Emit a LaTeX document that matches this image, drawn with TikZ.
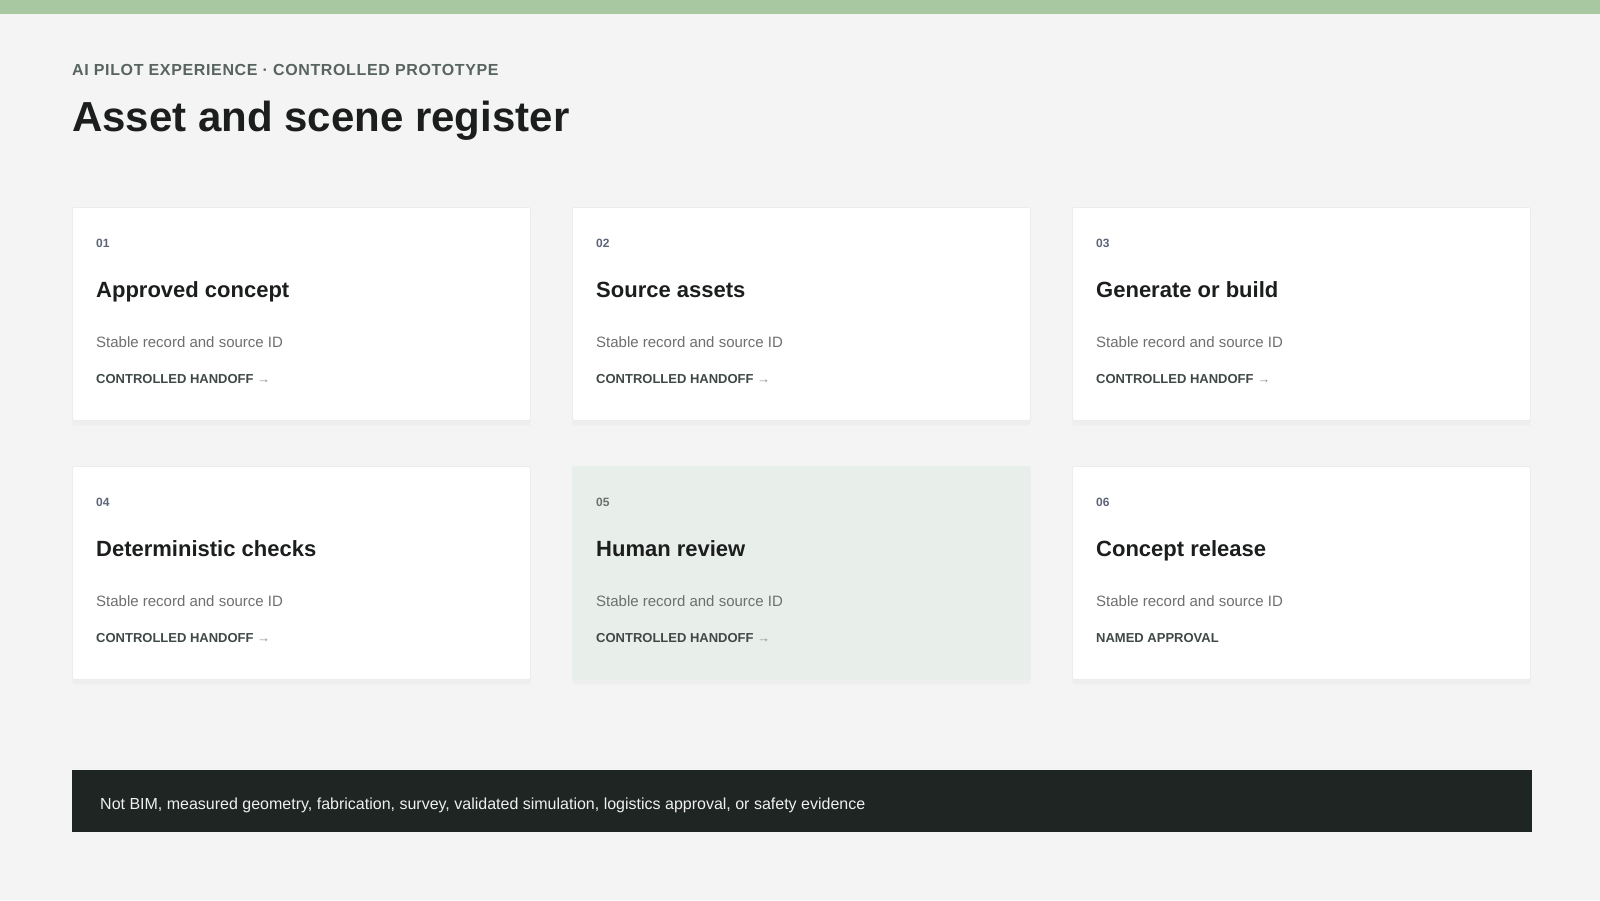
\documentclass[tikz,border=0pt]{standalone}
\usepackage{fontspec}
\setmainfont{Liberation Sans}
\usetikzlibrary{calc,shadows}

\definecolor{pagebg}{HTML}{F3F4F3}
\definecolor{topband}{HTML}{A8C8A2}
\definecolor{eyebrowgray}{HTML}{58645F}
\definecolor{ink}{HTML}{1C1E1E}
\definecolor{numblue}{HTML}{5E6579}
\definecolor{descgray}{HTML}{6E6F6F}
\definecolor{taggray}{HTML}{3F4947}
\definecolor{arrowgray}{HTML}{8A918F}
\definecolor{cardline}{HTML}{EBEDEB}
\definecolor{reviewfill}{HTML}{E8EEEA}
\definecolor{footerbg}{HTML}{1E2523}

\tikzset{
  card/.style={anchor=north west, minimum width=458pt, minimum height=213pt, inner sep=0pt,
    fill=white, draw=cardline, line width=0.8pt, rounded corners=2pt,
    drop shadow={opacity=0.05, shadow xshift=0pt, shadow yshift=-5pt}},
  num/.style={anchor=base west, inner sep=0pt, text=numblue, font=\fontsize{12}{14}\selectfont\bfseries},
  cardtitle/.style={anchor=base west, inner sep=0pt, text=ink, font=\fontsize{22}{26}\selectfont\bfseries},
  desc/.style={anchor=base west, inner sep=0pt, text=descgray, font=\fontsize{15}{18}\selectfont},
  tag/.style={anchor=base west, inner sep=0pt, text=taggray, font=\fontsize{13}{15}\selectfont\bfseries},
}
\newcommand{\handoff}{CONTROLLED HANDOFF {\color{arrowgray}\mdseries→}}

\begin{document}
\begin{tikzpicture}[x=1pt,y=-1pt]
    \useasboundingbox (0,0) rectangle (1600,900);
    % Page and top band
    \fill[pagebg] (0,0) rectangle (1600,900);
    \fill[topband] (0,0) rectangle (1600,14);
    % Heading
    \node[anchor=base west, inner sep=0pt, text=eyebrowgray,
        font=\fontsize{16}{19}\selectfont\bfseries\addfontfeature{LetterSpace=4}]
        (eyebrow) at (72,75) {AI PILOT EXPERIENCE · CONTROLLED PROTOTYPE};
    \node[anchor=base west, inner sep=0pt, text=ink, font=\fontsize{42}{48}\selectfont\bfseries]
        (title) at (72,131) {Asset and scene register};

    % Row one
    \node[card] (c1) at (72,207) {};
    \node[num] (n1) at ($(c1.north west)+(24,40)$) {01};
    \node[cardtitle] (t1) at ($(c1.north west)+(24,90)$) {Approved concept};
    \node[desc] (d1) at ($(c1.north west)+(24,140)$) {Stable record and source ID};
    \node[tag] (g1) at ($(c1.north west)+(24,176)$) {\handoff};

    \node[card] (c2) at (572,207) {};
    \node[num] (n2) at ($(c2.north west)+(24,40)$) {02};
    \node[cardtitle] (t2) at ($(c2.north west)+(24,90)$) {Source assets};
    \node[desc] (d2) at ($(c2.north west)+(24,140)$) {Stable record and source ID};
    \node[tag] (g2) at ($(c2.north west)+(24,176)$) {\handoff};

    \node[card] (c3) at (1072,207) {};
    \node[num] (n3) at ($(c3.north west)+(24,40)$) {03};
    \node[cardtitle] (t3) at ($(c3.north west)+(24,90)$) {Generate or build};
    \node[desc] (d3) at ($(c3.north west)+(24,140)$) {Stable record and source ID};
    \node[tag] (g3) at ($(c3.north west)+(24,176)$) {\handoff};

    % Row two
    \node[card] (c4) at (72,466) {};
    \node[num] (n4) at ($(c4.north west)+(24,40)$) {04};
    \node[cardtitle] (t4) at ($(c4.north west)+(24,90)$) {Deterministic checks};
    \node[desc] (d4) at ($(c4.north west)+(24,140)$) {Stable record and source ID};
    \node[tag] (g4) at ($(c4.north west)+(24,176)$) {\handoff};

    % Highlighted card
    \node[card, fill=reviewfill, draw=reviewfill] (c5) at (572,466) {};
    \node[num, text=descgray] (n5) at ($(c5.north west)+(24,40)$) {05};
    \node[cardtitle] (t5) at ($(c5.north west)+(24,90)$) {Human review};
    \node[desc] (d5) at ($(c5.north west)+(24,140)$) {Stable record and source ID};
    \node[tag] (g5) at ($(c5.north west)+(24,176)$) {\handoff};

    \node[card] (c6) at (1072,466) {};
    \node[num] (n6) at ($(c6.north west)+(24,40)$) {06};
    \node[cardtitle] (t6) at ($(c6.north west)+(24,90)$) {Concept release};
    \node[desc] (d6) at ($(c6.north west)+(24,140)$) {Stable record and source ID};
    \node[tag] (g6) at ($(c6.north west)+(24,176)$) {NAMED APPROVAL};

    % Footer strip
    \node[anchor=north west, minimum width=1460pt, minimum height=62pt, inner sep=0pt, fill=footerbg]
        (foot) at (72,770) {};
    \node[anchor=base west, inner sep=0pt, text=white!94!black, font=\fontsize{16}{19}\selectfont]
        (footnote) at ($(foot.north west)+(28,39)$)
        {Not BIM, measured geometry, fabrication, survey, validated simulation, logistics approval, or safety evidence};
\end{tikzpicture}
\end{document}
